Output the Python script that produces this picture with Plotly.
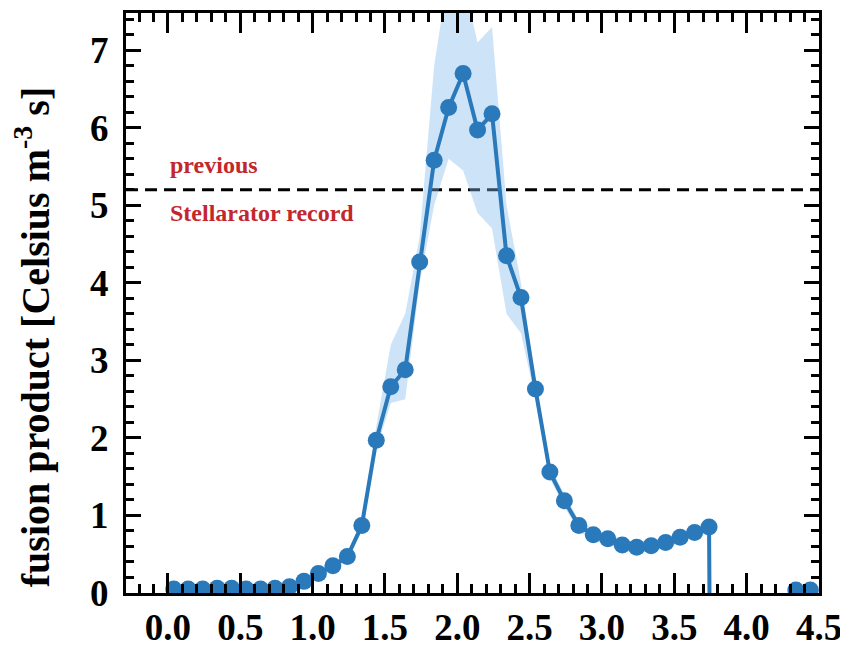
import plotly.graph_objects as go

# ---- data ----
x_vals = [0.04, 0.14, 0.24, 0.34, 0.44, 0.54, 0.64, 0.74, 0.84, 0.94,
          1.04, 1.14, 1.24, 1.34, 1.44, 1.54, 1.64, 1.74, 1.84, 1.94,
          2.04, 2.14, 2.24, 2.34, 2.44, 2.54, 2.64, 2.74, 2.84, 2.94,
          3.04, 3.14, 3.24, 3.34, 3.44, 3.54, 3.64, 3.74, 3.745]
y_vals = [0.05, 0.05, 0.05, 0.06, 0.06, 0.05, 0.05, 0.06, 0.08, 0.15,
          0.25, 0.35, 0.47, 0.87, 1.97, 2.66, 2.88, 4.27, 5.58, 6.26,
          6.70, 5.97, 6.18, 4.35, 3.81, 2.63, 1.56, 1.19, 0.87, 0.75,
          0.70, 0.62, 0.59, 0.61, 0.65, 0.72, 0.78, 0.85, -0.6]
y_lower = [0.02, 0.02, 0.02, 0.03, 0.03, 0.02, 0.02, 0.03, 0.05, 0.10,
           0.20, 0.30, 0.42, 0.80, 1.85, 2.45, 2.50, 4.00, 5.00, 5.60,
           5.45, 4.90, 4.70, 3.60, 3.35, 2.50, 1.48, 1.11, 0.80, 0.68,
           0.63, 0.55, 0.52, 0.54, 0.58, 0.65, 0.71, 0.78, -0.6]
y_upper = [0.08, 0.08, 0.08, 0.09, 0.09, 0.08, 0.08, 0.09, 0.11, 0.20,
           0.30, 0.40, 0.52, 0.95, 2.15, 3.20, 3.60, 4.60, 6.80, 8.00,
           7.90, 7.10, 7.30, 5.00, 4.00, 2.78, 1.64, 1.27, 0.94, 0.82,
           0.77, 0.69, 0.66, 0.68, 0.72, 0.79, 0.85, 0.92, -0.6]
marker_sizes = [17] * 38 + [0]
x_tail = [4.34, 4.44]
y_tail = [0.04, 0.04]
record_value = 5.2
x_ticks = [0.0, 0.5, 1.0, 1.5, 2.0, 2.5, 3.0, 3.5, 4.0, 4.5]
y_ticks = [0, 1, 2, 3, 4, 5, 6, 7]

blue = "#2a79ba"
band = "rgba(130,185,235,0.40)"
red = "#c4262e"
serif = "Liberation Serif, Times New Roman, serif"

fig = go.Figure()
fig.add_trace(go.Scatter(x=x_vals, y=y_lower, mode="lines",
                         line=dict(width=0, color=band), showlegend=False,
                         hoverinfo="skip"))
fig.add_trace(go.Scatter(x=x_vals, y=y_upper, mode="lines", fill="tonexty",
                         fillcolor=band, line=dict(width=0, color=band),
                         showlegend=False, hoverinfo="skip"))
fig.add_trace(go.Scatter(x=x_vals, y=y_vals, mode="lines+markers",
                         line=dict(color=blue, width=4),
                         marker=dict(color=blue, size=marker_sizes, opacity=1,
                                     line=dict(width=0)),
                         showlegend=False))
fig.add_trace(go.Scatter(x=x_tail, y=y_tail, mode="lines+markers",
                         line=dict(color=blue, width=4),
                         marker=dict(color=blue, size=17, opacity=1,
                                     line=dict(width=0)),
                         showlegend=False))

fig.add_shape(type="line", xref="paper", x0=0, x1=1, yref="y",
              y0=record_value, y1=record_value,
              line=dict(color="black", width=3, dash="12px,7px"),
              layer="below")

fig.add_annotation(x=0.0, y=5.52, text="<b>previous</b>", showarrow=False,
                   xanchor="left", yanchor="middle",
                   font=dict(family=serif, size=24, color=red))
fig.add_annotation(x=0.0, y=4.9, text="<b>Stellarator record</b>",
                   showarrow=False, xanchor="left", yanchor="middle",
                   font=dict(family=serif, size=24, color=red))

# y-axis title placed as rotated text (sits lower than the axis centre)
fig.add_annotation(xref="paper", yref="paper", x=-0.1356, y=0.441,
                   xanchor="center", yanchor="middle", textangle=-90,
                   showarrow=False,
                   text="<b>fusion product [Celsius m<sup>-3</sup> s]</b>",
                   font=dict(family=serif, size=40, color="black"))

axis_common = dict(showline=True, linecolor="black", linewidth=3,
                   mirror="allticks", ticks="inside", tickcolor="black",
                   tickwidth=3, showgrid=False, zeroline=False,
                   tickfont=dict(family=serif, size=37, color="black",
                                 weight="bold"))

fig.update_xaxes(range=[-0.29, 4.5], tickvals=x_ticks,
                 ticktext=[f"{v:.1f}" for v in x_ticks], ticklen=20,
                 minor=dict(dtick=0.1, ticklen=9, tickwidth=2.5,
                            ticks="inside", tickcolor="black", showgrid=False),
                 **axis_common)
fig.update_yaxes(range=[0, 7.48], tickvals=y_ticks, ticklen=15,
                 ticklabelstandoff=7,
                 minor=dict(dtick=0.2, ticklen=8, tickwidth=2.5,
                            ticks="inside", tickcolor="black", showgrid=False),
                 **axis_common)

# the page body adds an 8px offset; compensate so the plot area lands
# where the reference has it
fig.update_layout(width=840, height=643, plot_bgcolor="white",
                  paper_bgcolor="white",
                  margin=dict(l=118, r=29, t=5, b=58, autoexpand=False))

fig.write_html("out.html")
